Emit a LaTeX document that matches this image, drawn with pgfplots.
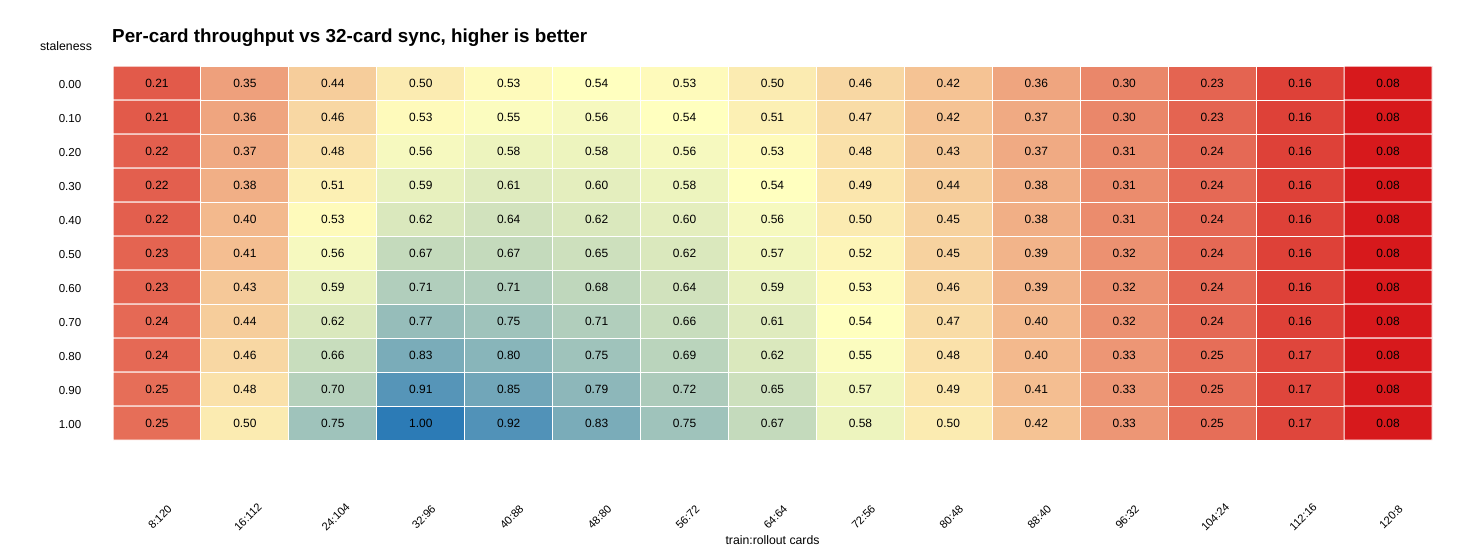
\documentclass[border=0pt]{standalone}
\usepackage{pgfplots}
\pgfplotsset{compat=1.18}
\usepackage{pgfplotstable}
\usepackage{fontspec}
\setmainfont{Liberation Sans}
\pgfplotstableread{
x y v
0 0 0.21
1 0 0.35
2 0 0.44
3 0 0.50
4 0 0.53
5 0 0.54
6 0 0.53
7 0 0.50
8 0 0.46
9 0 0.42
10 0 0.36
11 0 0.30
12 0 0.23
13 0 0.16
14 0 0.08
0 1 0.21
1 1 0.36
2 1 0.46
3 1 0.53
4 1 0.55
5 1 0.56
6 1 0.54
7 1 0.51
8 1 0.47
9 1 0.42
10 1 0.37
11 1 0.30
12 1 0.23
13 1 0.16
14 1 0.08
0 2 0.22
1 2 0.37
2 2 0.48
3 2 0.56
4 2 0.58
5 2 0.58
6 2 0.56
7 2 0.53
8 2 0.48
9 2 0.43
10 2 0.37
11 2 0.31
12 2 0.24
13 2 0.16
14 2 0.08
0 3 0.22
1 3 0.38
2 3 0.51
3 3 0.59
4 3 0.61
5 3 0.60
6 3 0.58
7 3 0.54
8 3 0.49
9 3 0.44
10 3 0.38
11 3 0.31
12 3 0.24
13 3 0.16
14 3 0.08
0 4 0.22
1 4 0.40
2 4 0.53
3 4 0.62
4 4 0.64
5 4 0.62
6 4 0.60
7 4 0.56
8 4 0.50
9 4 0.45
10 4 0.38
11 4 0.31
12 4 0.24
13 4 0.16
14 4 0.08
0 5 0.23
1 5 0.41
2 5 0.56
3 5 0.67
4 5 0.67
5 5 0.65
6 5 0.62
7 5 0.57
8 5 0.52
9 5 0.45
10 5 0.39
11 5 0.32
12 5 0.24
13 5 0.16
14 5 0.08
0 6 0.23
1 6 0.43
2 6 0.59
3 6 0.71
4 6 0.71
5 6 0.68
6 6 0.64
7 6 0.59
8 6 0.53
9 6 0.46
10 6 0.39
11 6 0.32
12 6 0.24
13 6 0.16
14 6 0.08
0 7 0.24
1 7 0.44
2 7 0.62
3 7 0.77
4 7 0.75
5 7 0.71
6 7 0.66
7 7 0.61
8 7 0.54
9 7 0.47
10 7 0.40
11 7 0.32
12 7 0.24
13 7 0.16
14 7 0.08
0 8 0.24
1 8 0.46
2 8 0.66
3 8 0.83
4 8 0.80
5 8 0.75
6 8 0.69
7 8 0.62
8 8 0.55
9 8 0.48
10 8 0.40
11 8 0.33
12 8 0.25
13 8 0.17
14 8 0.08
0 9 0.25
1 9 0.48
2 9 0.70
3 9 0.91
4 9 0.85
5 9 0.79
6 9 0.72
7 9 0.65
8 9 0.57
9 9 0.49
10 9 0.41
11 9 0.33
12 9 0.25
13 9 0.17
14 9 0.08
0 10 0.25
1 10 0.50
2 10 0.75
3 10 1.00
4 10 0.92
5 10 0.83
6 10 0.75
7 10 0.67
8 10 0.58
9 10 0.50
10 10 0.42
11 10 0.33
12 10 0.25
13 10 0.17
14 10 0.08
}\heat
\begin{document}
\begin{tikzpicture}
\path[use as bounding box] (0,0) rectangle (1468bp,556bp);
\begin{axis}[
  at={(113bp,116bp)}, anchor=south west,
  scale only axis, width=1319bp, height=374bp,
  xmin=-0.5, xmax=14.5, ymin=-0.5, ymax=10.5,
  y dir=reverse,
  enlargelimits=false,
  axis line style={draw=none},
  major tick length=0pt,
  /pgf/number format/assume math mode=true,
  colormap={rdylbu}{rgb255=(215,25,28) rgb255=(255,255,191) rgb255=(44,123,182)},
  point meta min=0.08, point meta max=1.00,
  xtick={0,...,14},
  xticklabels={8:120,16:112,24:104,32:96,40:88,48:80,56:72,64:64,72:56,80:48,88:40,96:32,104:24,112:16,120:8},
  xticklabel style={font=\fontsize{11.2}{13}\selectfont, anchor=center, yshift=-77bp, xshift=3bp, rotate=45},
  ytick={0,...,10},
  yticklabels={0.00,0.10,0.20,0.30,0.40,0.50,0.60,0.70,0.80,0.90,1.00},
  yticklabel style={font=\fontsize{11.6}{13}\selectfont, anchor=center, xshift=-43bp, yshift=-1.5bp},
  xlabel={train:rollout cards},
  xlabel style={font=\fontsize{12.3}{14}\selectfont, at={(axis description cs:0.5,0)}, anchor=center, yshift=-100bp},
  ylabel={staleness},
  ylabel style={font=\fontsize{12.3}{14}\selectfont, rotate=-90, at={(axis description cs:0,1)}, anchor=center, xshift=-47bp, yshift=20bp},
  title={Per-card throughput vs 32-card sync, higher is better},
  title style={font=\bfseries\fontsize{18.9}{22}\selectfont, at={(axis description cs:0,1)}, anchor=base west, yshift=18bp, xshift=-1bp, inner sep=0pt},
]
\addplot[matrix plot*, mesh/cols=15, draw=white, line width=1bp, point meta=explicit,
  nodes near coords={\pgfmathprintnumber[fixed,fixed zerofill,precision=2]{\pgfplotspointmeta}},
  nodes near coords style={font=\fontsize{12}{14}\selectfont, anchor=center, text=black}]
  table[x=x, y=y, meta=v] {\heat};
\end{axis}
\end{tikzpicture}
\end{document}
